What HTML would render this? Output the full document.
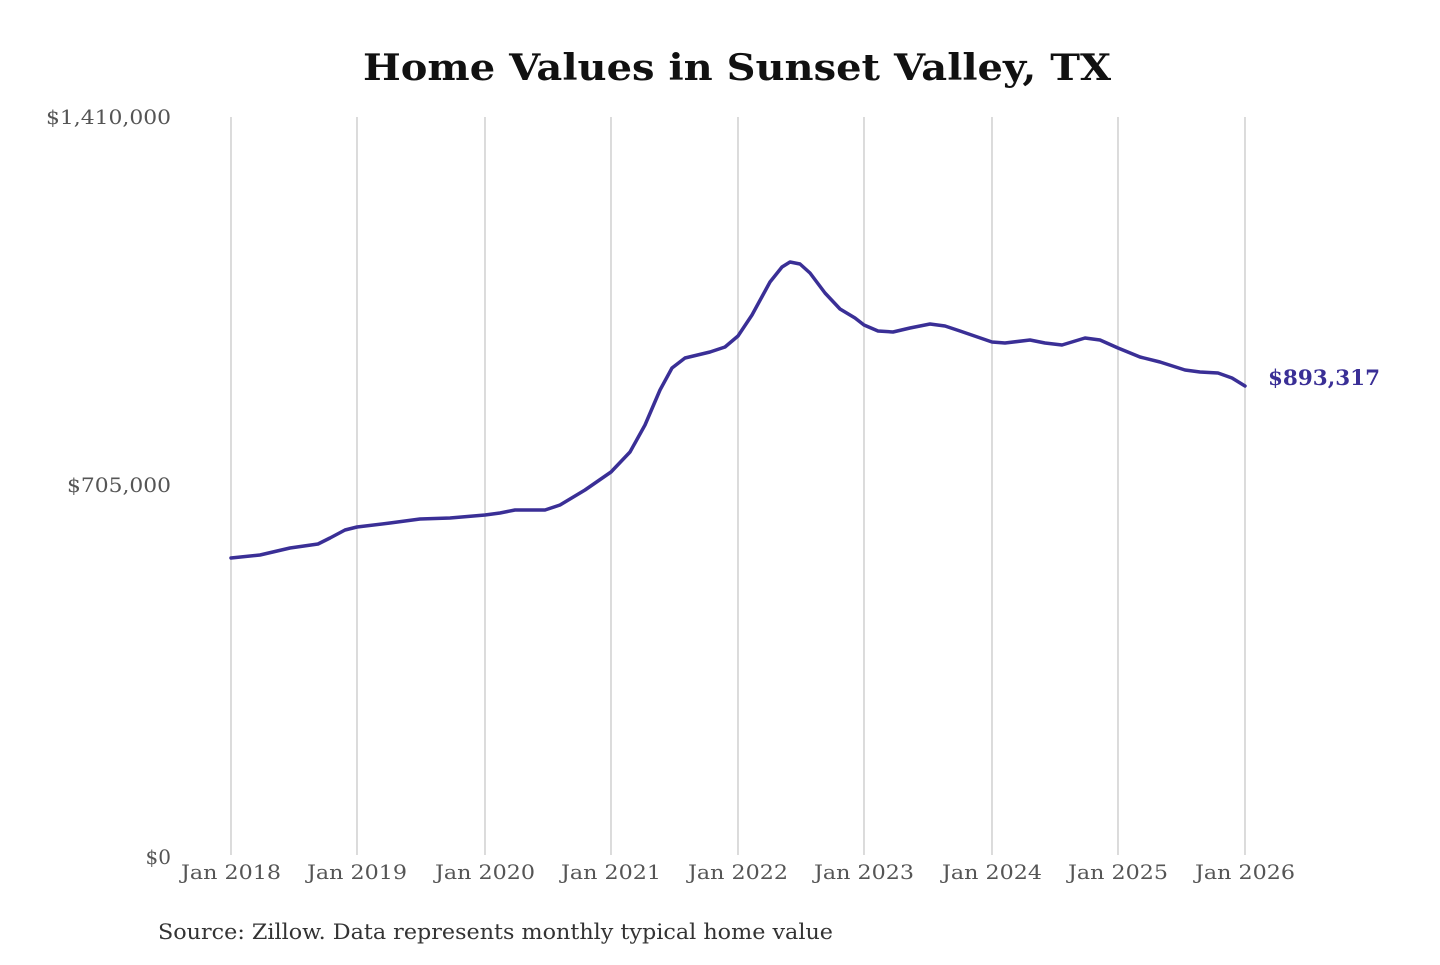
<!DOCTYPE html>
<html><head><style>body{margin:0;background:#fff}</style></head><body>
<svg width="1440" height="960" xmlns="http://www.w3.org/2000/svg" font-family="'DejaVu Serif','Liberation Serif',serif">
<rect width="1440" height="960" fill="#fff"/>
<text x="737" y="80" text-anchor="middle" font-size="36" font-weight="bold" fill="#111" textLength="748" lengthAdjust="spacingAndGlyphs">Home Values in Sunset Valley, TX</text>
<g stroke="#c8c8c8" stroke-width="1.3">
<line x1="231" y1="117" x2="231" y2="855"/><line x1="357" y1="117" x2="357" y2="855"/><line x1="485" y1="117" x2="485" y2="855"/><line x1="611" y1="117" x2="611" y2="855"/><line x1="738" y1="117" x2="738" y2="855"/><line x1="864" y1="117" x2="864" y2="855"/><line x1="992" y1="117" x2="992" y2="855"/><line x1="1118" y1="117" x2="1118" y2="855"/><line x1="1245" y1="117" x2="1245" y2="855"/>
</g>
<g font-size="20" fill="#555" text-anchor="end">
<text x="171" y="124" textLength="125" lengthAdjust="spacingAndGlyphs">$1,410,000</text>
<text x="171" y="492" textLength="104" lengthAdjust="spacingAndGlyphs">$705,000</text>
<text x="171" y="864">$0</text>
</g>
<g font-size="20" fill="#555" text-anchor="middle">
<text x="231" y="879" textLength="100" lengthAdjust="spacingAndGlyphs">Jan 2018</text>
<text x="357" y="879" textLength="100" lengthAdjust="spacingAndGlyphs">Jan 2019</text>
<text x="485" y="879" textLength="100" lengthAdjust="spacingAndGlyphs">Jan 2020</text>
<text x="611" y="879" textLength="100" lengthAdjust="spacingAndGlyphs">Jan 2021</text>
<text x="738" y="879" textLength="100" lengthAdjust="spacingAndGlyphs">Jan 2022</text>
<text x="864" y="879" textLength="100" lengthAdjust="spacingAndGlyphs">Jan 2023</text>
<text x="992" y="879" textLength="100" lengthAdjust="spacingAndGlyphs">Jan 2024</text>
<text x="1118" y="879" textLength="100" lengthAdjust="spacingAndGlyphs">Jan 2025</text>
<text x="1245" y="879" textLength="100" lengthAdjust="spacingAndGlyphs">Jan 2026</text>
</g>
<polyline fill="none" stroke="#3a2f96" stroke-width="3.5" stroke-linejoin="round" stroke-linecap="round" points="231,558 260,555 290,548 318,544 330,538 345,530 357,527 390,523 420,519 450,518 485,515 500,513 515,510 545,510 560,505 585,490 611,472 630,452 645,425 660,390 672,368 685,358 710,352 725,347 738,336 752,315 770,282 782,267 790,262 800,264 810,273 825,293 840,309 855,318 864,325 878,331 893,332 910,328 930,324 945,326 960,331 992,342 1005,343 1030,340 1045,343 1062,345 1085,338 1100,340 1118,348 1140,357 1160,362 1185,370 1200,372 1218,373 1232,378 1245,386"/>
<text x="1268" y="385" font-size="21" font-weight="bold" fill="#3a2f96" textLength="112" lengthAdjust="spacingAndGlyphs">$893,317</text>
<text x="158" y="939" font-size="21" fill="#333" textLength="675" lengthAdjust="spacingAndGlyphs">Source: Zillow. Data represents monthly typical home value</text>
</svg>
</body></html>
